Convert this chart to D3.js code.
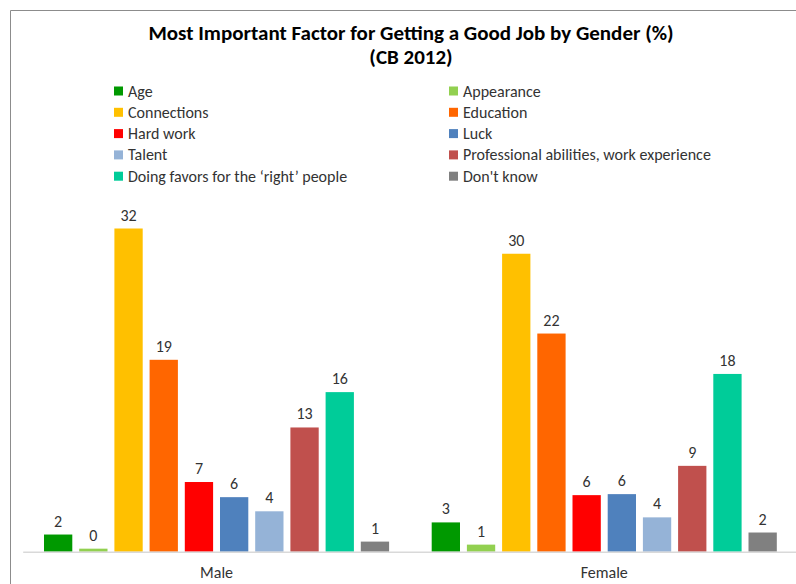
<!DOCTYPE html>
<html>
<head>
<meta charset="utf-8">
<script src="https://cdn.jsdelivr.net/npm/d3@7"></script>
<style>
	body { margin: 0; background: #fff; }
	svg { display: block; font-family: Carlito, Lato, "Liberation Sans", sans-serif; }
</style>
</head>
<body>
<div id="container"></div>
<script>
// data
var genders = ["Male", "Female"];
var factors = ["Age", "Appearance", "Connections", "Education", "Hard work", "Luck", "Talent",
	"Professional abilities, work experience", "Doing favors for the \u2018right\u2019 people", "Don't know"];
var maleValues = [1.7, 0.3, 32, 19, 6.9, 5.4, 4.0, 12.3, 15.8, 1.0];
var femaleValues = [2.9, 0.7, 29.5, 21.6, 5.6, 5.7, 3.4, 8.5, 17.6, 1.9];
var maleLabels = ["2", "0", "32", "19", "7", "6", "4", "13", "16", "1"];
var femaleLabels = ["3", "1", "30", "22", "6", "6", "4", "9", "18", "2"];
var colors = ["#009900", "#92d050", "#ffc000", "#ff6600", "#ff0000", "#4f81bd", "#95b3d7", "#c0504d", "#00cc99", "#808080"];

(function()
{
	var width = 796, height = 584;
	var svg = d3.select("#container").append("svg")
		.attr("width", width)
		.attr("height", height);

	// chart frame (right and bottom edges are cut off in the original)
	svg.append("path")
		.attr("d", "M10.5," + height + "V10.5H" + width)
		.attr("fill", "none")
		.attr("stroke", "#8c8c8c")
		.attr("stroke-width", 1);

	// title
	var title = svg.append("text")
		.attr("text-anchor", "middle")
		.style("font-weight", "bold")
		.style("font-size", "21px")
		.attr("fill", "#000");
	title.append("tspan").attr("x", 411).attr("y", 40).text("Most Important Factor for Getting a Good Job by Gender (%)");
	title.append("tspan").attr("x", 411).attr("y", 64).text("(CB 2012)");

	// legend, two columns, row by row
	var legend = svg.append("g");
	factors.forEach(function(f, i)
	{
		var col = i % 2, row = Math.floor(i / 2);
		var lx = col == 0 ? 114 : 449;
		var ly = 91 + row * 21.3;
		legend.append("rect")
			.attr("x", lx).attr("y", ly - 4.5)
			.attr("width", 9).attr("height", 9)
			.attr("fill", colors[i]);
		legend.append("text")
			.attr("x", lx + 14).attr("y", ly + 5.5)
			.style("font-size", "16px")
			.attr("fill", "#333")
			.text(f);
	});

	// scales
	var baseY = 551.7;
	var x0 = d3.scaleBand().domain(genders).range([22.7, 798.1]);
	var x1 = d3.scaleBand().domain(factors).range([0, x0.bandwidth()])
		.paddingInner(0.196).paddingOuter(0.605);
	var y = d3.scaleLinear().domain([0, 35]).range([baseY, baseY - 35 * 10.1]);

	var series = [
		{ gender: "Male", values: maleValues, labels: maleLabels },
		{ gender: "Female", values: femaleValues, labels: femaleLabels }
	];

	series.forEach(function(s)
	{
		var g = svg.append("g").attr("transform", "translate(" + x0(s.gender) + ",0)");
		var rows = factors.map(function(f, i) { return { factor: f, value: s.values[i], label: s.labels[i], color: colors[i] }; });

		g.selectAll("rect").data(rows).enter().append("rect")
			.attr("x", function(d) { return x1(d.factor); })
			.attr("y", function(d) { return y(d.value); })
			.attr("width", x1.bandwidth())
			.attr("height", function(d) { return baseY - y(d.value); })
			.attr("fill", function(d) { return d.color; });

		g.selectAll("text").data(rows).enter().append("text")
			.attr("x", function(d) { return x1(d.factor) + x1.bandwidth() / 2; })
			.attr("y", function(d) { return y(d.value) - 8; })
			.attr("text-anchor", "middle")
			.style("font-size", "16px")
			.attr("fill", "#333")
			.text(function(d) { return d.label; });
	});

	// category axis
	var axis = svg.append("g")
		.attr("transform", "translate(0," + baseY + ")")
		.call(d3.axisBottom(x0).tickSize(0).tickPadding(15));
	axis.select(".domain").attr("stroke", "#d9d9d9").attr("stroke-width", 1.5);
	axis.selectAll("text")
		.style("font-family", "Carlito, Lato, 'Liberation Sans', sans-serif")
		.style("font-size", "16px")
		.attr("fill", "#333");
})();
</script>
</body>
</html>
